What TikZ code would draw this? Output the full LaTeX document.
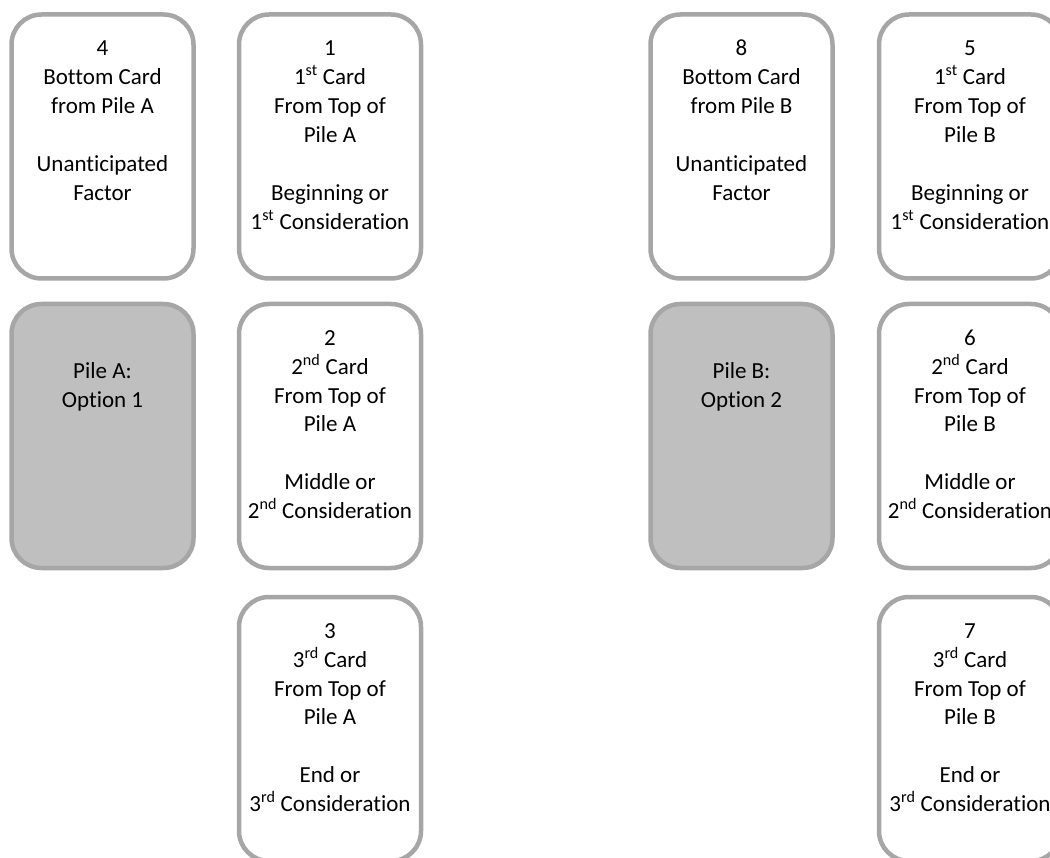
\documentclass[tikz,border=0pt]{standalone}
\usepackage{fontspec}
\setmainfont{Carlito}[Ligatures=NoCommon]
\definecolor{cardline}{HTML}{A6A6A6}
\definecolor{pilefill}{HTML}{BFBFBF}
\tikzset{
  card/.style={draw=cardline, line width=4.5pt, fill=white, rounded corners=30pt,
    minimum width=182pt, minimum height=264pt, inner sep=0pt, outer sep=0pt},
  pilecard/.style={card, fill=pilefill},
  cardtext/.style={anchor=north, inner sep=0pt, align=center,
    font=\fontsize{23}{28.9}\selectfont, text=black}
}
\newcommand{\fl}{\rule{0pt}{20pt}}
\begin{document}
\begin{tikzpicture}[x=1pt,y=-1pt]
\useasboundingbox (0,0) rectangle (1050,858);
\clip (0,0) rectangle (1050,858);
% Pile A group
\node[card] (c4) at (102.5,146.5) {};
\node[card] (c1) at (330,146.5) {};
\node[pilecard] (pA) at (102.5,436) {};
\node[card] (c2) at (330,436) {};
\node[card] (c3) at (330,729) {};
% Pile B group
\node[card] (c8) at (741.5,146.5) {};
\node[card] (c5) at (970,146.5) {};
\node[pilecard] (pB) at (741.5,436) {};
\node[card] (c6) at (970,436) {};
\node[card] (c7) at (970,729) {};
% texts
\node[cardtext] (t4) at ([yshift=-21pt]c4.north) {\fl 4\\Bottom Card\\from Pile A\\[28.9pt]Unanticipated\\Factor};
\node[cardtext] (t1) at ([yshift=-21pt]c1.north) {\fl 1\\1\textsuperscript{st} Card\\From Top of\\Pile A\\[28.9pt]Beginning or\\1\textsuperscript{st} Consideration};
\node[cardtext] (tA) at ([yshift=-54pt]pA.north) {\fl Pile A:\\Option 1};
\node[cardtext] (t2) at ([yshift=-21pt]c2.north) {\fl 2\\2\textsuperscript{nd} Card\\From Top of\\Pile A\\[28.9pt]Middle or\\2\textsuperscript{nd} Consideration};
\node[cardtext] (t3) at ([yshift=-21pt]c3.north) {\fl 3\\3\textsuperscript{rd} Card\\From Top of\\Pile A\\[28.9pt]End or\\3\textsuperscript{rd} Consideration};
\node[cardtext] (t8) at ([yshift=-21pt]c8.north) {\fl 8\\Bottom Card\\from Pile B\\[28.9pt]Unanticipated\\Factor};
\node[cardtext] (t5) at ([yshift=-21pt]c5.north) {\fl 5\\1\textsuperscript{st} Card\\From Top of\\Pile B\\[28.9pt]Beginning or\\1\textsuperscript{st} Consideration};
\node[cardtext] (tB) at ([yshift=-54pt]pB.north) {\fl Pile B:\\Option 2};
\node[cardtext] (t6) at ([yshift=-21pt]c6.north) {\fl 6\\2\textsuperscript{nd} Card\\From Top of\\Pile B\\[28.9pt]Middle or\\2\textsuperscript{nd} Consideration};
\node[cardtext] (t7) at ([yshift=-21pt]c7.north) {\fl 7\\3\textsuperscript{rd} Card\\From Top of\\Pile B\\[28.9pt]End or\\3\textsuperscript{rd} Consideration};
\end{tikzpicture}
\end{document}
